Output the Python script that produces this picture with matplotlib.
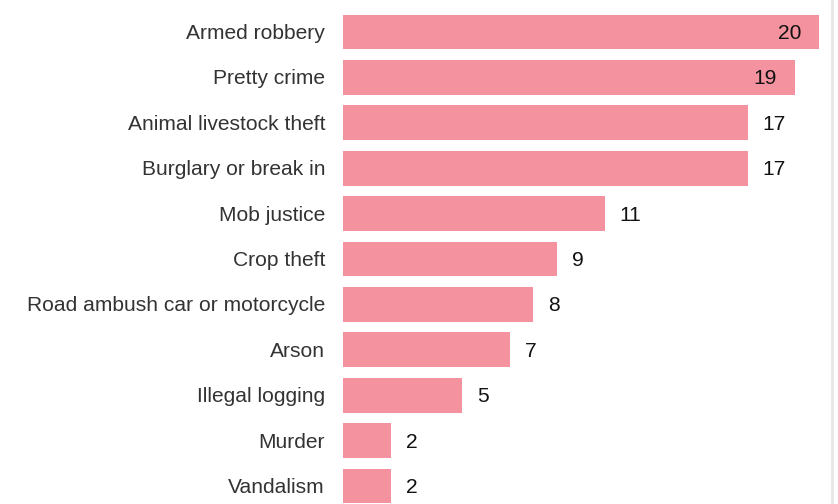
import matplotlib
matplotlib.use("Agg")
import matplotlib.pyplot as plt
import matplotlib.transforms as mtransforms
from matplotlib.lines import Line2D

categories = ["Armed robbery", "Pretty crime", "Animal livestock theft",
              "Burglary or break in", "Mob justice", "Crop theft",
              "Road ambush car or motorcycle", "Arson", "Illegal logging",
              "Murder", "Vandalism"]
values = [20, 19, 17, 17, 11, 9, 8, 7, 5, 2, 2]

W, H = 838, 504
DPI = 100
plt.rcParams['font.family'] = ['Liberation Sans', 'DejaVu Sans']

fig = plt.figure(figsize=(W / DPI, H / DPI), dpi=DPI)
ax = fig.add_axes([0, 0, 1, 1])
ax.set_axis_off()

x0_px = 343.0
px_per_unit = 23.8
ax.set_xlim(-x0_px / px_per_unit, (W - x0_px) / px_per_unit)
row0_px = 32.0
row_px = 45.4
ax.set_ylim((H - row0_px) / row_px, -row0_px / row_px)

ypos = list(range(len(categories)))
bar_color = "#F4939F"
ax.barh(ypos, values, height=0.77, color=bar_color, edgecolor="none")

fs = 15.1
dy = -1.5
vmax = max(values)
label_off = mtransforms.offset_copy(ax.transData, fig=fig, x=-18, y=dy, units='dots')
for y, cat in zip(ypos, categories):
    ax.text(0, y, cat, transform=label_off, ha='right', va='center',
            fontsize=fs, color='#333333')

for y, v in zip(ypos, values):
    if v >= 0.9 * vmax:
        tr = mtransforms.offset_copy(ax.transData, fig=fig, x=-18, y=dy, units='dots')
        ax.text(v, y, str(v), transform=tr, ha='right', va='center',
                fontsize=fs, color='#111111')
    else:
        tr = mtransforms.offset_copy(ax.transData, fig=fig, x=15, y=dy, units='dots')
        ax.text(v, y, str(v), transform=tr, ha='left', va='center',
                fontsize=fs, color='#111111')

fig.add_artist(Line2D([831.5 / W, 831.5 / W], [0, 1], color='#e8e8e8',
                      linewidth=2.2, transform=fig.transFigure))

fig.savefig("out.png", dpi=DPI)
